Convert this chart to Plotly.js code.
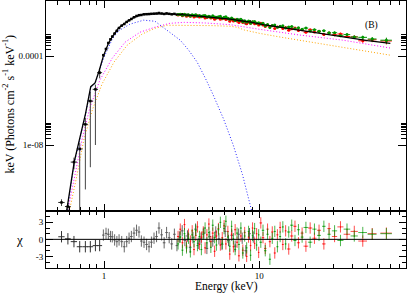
<!DOCTYPE html>
<html>
<head>
<meta charset="utf-8">
<script src="https://cdn.plot.ly/plotly-3.0.1.min.js"></script>
<style>html,body{margin:0;padding:0;background:#fff}#chart{width:409px;height:293px}</style>
</head>
<body>
<div id="chart"></div>
<script>
// ---------- model components (keV, keV Photons cm^-2 s^-1 keV^-1) ----------
const totE = [0.50,0.55,0.58,0.643,0.693,0.76,0.821,0.875,0.93,0.99,1.066,1.13,1.236,1.40,1.55,1.71,1.785,2.0,2.4,2.79,3.5,4.16,5.0,6.5,7.6,8.8,10.6,13,18.4,25,34.8,50,70];
const totF = [1e-13,2e-12,1.7e-11,1.8e-9,1.66e-8,2.6e-7,4.2e-6,6.2e-6,2.2e-5,1.0e-4,3.7e-4,7.4e-4,1.8e-3,3.5e-3,5.4e-3,7.0e-3,7.7e-3,8.1e-3,8.1e-3,7.7e-3,7.0e-3,6.3e-3,5.6e-3,4.6e-3,3.9e-3,3.4e-3,2.6e-3,2.1e-3,1.55e-3,1.08e-3,7.4e-4,5.0e-4,3.7e-4];

const bbE = [0.55,0.58,0.643,0.693,0.76,0.821,0.875,0.93,1.0,1.13,1.23,1.47,1.8,2.13,2.4,2.75,3.1,3.5,3.98,4.5,5.05,5.9,6.8,7.8,9.0,10];
const bbF = [1e-12,1.2e-11,1.5e-9,1.4e-8,2.3e-7,3.8e-6,5.8e-6,2.0e-5,9e-5,5.8e-4,1.33e-3,2.75e-3,4.15e-3,3.7e-3,2.0e-3,1.0e-3,5.2e-4,1.9e-4,5.4e-5,1.0e-5,1.8e-6,1.45e-7,1.0e-8,4.7e-10,1.2e-11,5e-13];

const compE = [0.55,0.585,0.65,0.72,0.81,0.94,1.13,1.37,1.71,2.13,2.66,3.3,4.5,6.5,10.1,18.4,34.8,70];
const compF = [1e-12,1.2e-11,4.5e-10,1.66e-8,4.6e-7,8.3e-6,8.1e-5,4.3e-4,1.2e-3,2.0e-3,3.0e-3,3.3e-3,3.1e-3,2.6e-3,1.6e-3,8.8e-4,5.2e-4,2.3e-4];

const reflE = [0.55,0.60,0.67,0.74,0.84,0.97,1.16,1.41,1.76,2.13,2.55,3.59,5.0,6.5,7.2,8.0,10.1,14,21.3,34.8,70];
const reflF = [1e-12,1.2e-11,4.5e-10,1.66e-8,3.7e-7,5.5e-6,5.4e-5,3.1e-4,9.8e-4,1.8e-3,2.45e-3,2.45e-3,2.35e-3,2.2e-3,2.0e-3,1.5e-3,1.05e-3,7.0e-4,4.3e-4,2.5e-4,1.1e-4];

// ---------- black data, low energies ----------
const bLoE = [0.532,0.585,0.640,0.697,0.758,0.816,0.880,0.937];
const bLoF = [2.6e-11,1.7e-11,1.7e-9,6.6e-9,8.5e-8,9.5e-7,3.2e-6,1.8e-5];
const bLoUp = [1.0e-11,0.7e-11,1.0e-9,6e-9,8e-8,1.5e-6,2.0e-6,1.0e-5];
const bLoDn = [0.8e-11,0.6e-11,0.9e-9,6.59e-9,8.49e-8,9.49e-7,3.19e-6,8e-6];
const bLoXErr = [0.025,0.025,0.03,0.03,0.03,0.035,0.035,0.035];
const bLoChi = [0.46,0.1,-0.4,-1.3,-1.3,-1.3,-1.1,-1.1];

// ---------- black data 1-9 keV ----------
const bE = [0.99,1.03,1.066,1.10,1.13,1.17,1.21,1.25,1.30,1.35,1.40,1.45,1.50,1.56,1.62,1.68,1.74,1.81,1.88,1.95,2.02,2.10,2.18,2.26,2.35,2.44,2.53,2.63,2.73,2.84,2.95,3.07,3.19,3.32,3.45,3.59,3.74,3.89,4.05,4.22,4.40,4.60,4.80,5.02,5.25,5.50,5.76,6.04,6.34,6.66,7.00,7.37,7.77,8.20,8.66,9.16];
const bF = [1.1e-4,2.1e-4,3.9e-4,5.7e-4,7.6e-4,1.04e-3,1.37e-3,1.84e-3,2.36e-3,2.78e-3,3.45e-3,4.05e-3,4.7e-3,5.6e-3,6.4e-3,6.95e-3,7.1e-3,7.55e-3,7.7e-3,7.8e-3,8.0e-3,8.15e-3,8.3e-3,8.7e-3,8.3e-3,7.9e-3,8.4e-3,8.0e-3,7.6e-3,7.95e-3,7.3e-3,7.5e-3,7.6e-3,7.1e-3,7.2e-3,6.6e-3,6.8e-3,7.0e-3,6.3e-3,6.3e-3,6.35e-3,5.6e-3,5.85e-3,5.55e-3,5.65e-3,5.27e-3,4.95e-3,5.2e-3,4.7e-3,4.65e-3,4.1e-3,4.3e-3,3.95e-3,3.0e-3,3.7e-3,3.4e-3];
const bChi = [0.75,1.05,0.9,0.5,0.45,-0.1,-0.4,-0.1,-0.4,-1.3,-0.4,0.2,0.5,1.1,1.6,1.3,-0.3,-0.5,-0.9,-1.3,-0.5,0.2,0.5,2.0,0.8,-0.6,1.2,0.3,-0.8,0.9,-1.1,0.4,1.5,-0.2,0.6,-1.4,0.3,1.8,-0.7,0.2,1.1,-1.6,0.5,-0.3,1.3,0.1,-0.9,1.4,-0.2,0.7,-1.2,0.9,0.2,-2.0,1.0,0.4];

// ---------- red / green data 3-70 keV ----------
const nuE = [3.0,3.1,3.2,3.3,3.4,3.5,3.6,3.7,3.8,3.9,4.0,4.12,4.24,4.36,4.48,4.6,4.74,4.88,5.02,5.16,5.3,5.46,5.62,5.78,5.94,6.1,6.28,6.46,6.64,6.82,7.0,7.2,7.4,7.62,7.84,8.06,8.3,8.54,8.8,9.06,9.34,9.62,9.92,10.24,10.58,10.94,11.32,11.72,12.14,12.6,13.1,13.64,14.2,14.8,15.5,16.2,17.0,17.9,18.9,20.0,21.3,22.7,24.3,26.1,28.2,30.6,33.4,36.8,41.0,46.5,53.5,66.0];
const nuRedF = [7.1e-3,7.4e-3,6.6e-3,7.4e-3,6.3e-3,6.7e-3,6.3e-3,6.65e-3,5.75e-3,6.25e-3,6.5e-3,5.7e-3,5.9e-3,6.0e-3,5.25e-3,5.65e-3,5.95e-3,5.2e-3,5.5e-3,4.6e-3,5.2e-3,5.4e-3,4.6e-3,4.8e-3,5.2e-3,4.4e-3,4.8e-3,3.75e-3,4.4e-3,3.8e-3,4.35e-3,3.8e-3,3.25e-3,3.8e-3,3.25e-3,3.65e-3,2.85e-3,3.3e-3,3.0e-3,3.4e-3,2.85e-3,3.0e-3,2.5e-3,3.05e-3,2.5e-3,2.15e-3,2.5e-3,2.15e-3,2.3e-3,1.77e-3,2.05e-3,2.15e-3,1.73e-3,1.93e-3,1.46e-3,1.7e-3,1.85e-3,1.42e-3,1.55e-3,1.2e-3,1.53e-3,1.21e-3,1.3e-3,9.5e-4,1.1e-3,9.1e-4,9.9e-4,7.6e-4,7.3e-4,4.9e-4,5.45e-4,4.8e-4];
const nuGrnF = [7.5e-3,7.75e-3,6.95e-3,7.7e-3,6.9e-3,7.25e-3,6.45e-3,7.2e-3,6.75e-3,7.2e-3,6.35e-3,6.65e-3,6.0e-3,6.55e-3,6.7e-3,5.95e-3,6.25e-3,5.55e-3,6.5e-3,5.75e-3,5.3e-3,5.9e-3,6.15e-3,5.05e-3,5.65e-3,5.85e-3,5.05e-3,4.5e-3,5.2e-3,4.55e-3,4.05e-3,4.55e-3,4.05e-3,4.5e-3,3.5e-3,3.9e-3,3.45e-3,3.85e-3,3.0e-3,3.5e-3,3.6e-3,3.05e-3,3.2e-3,2.8e-3,3.0e-3,2.3e-3,2.65e-3,1.95e-3,2.4e-3,2.5e-3,2.0e-3,2.2e-3,2.3e-3,1.86e-3,2.05e-3,2.15e-3,1.7e-3,1.87e-3,1.63e-3,1.82e-3,1.34e-3,1.55e-3,1.32e-3,1.4e-3,1.12e-3,1.13e-3,8.3e-4,9.3e-4,7.3e-4,7.0e-4,5.9e-4,5.2e-4];
const nuRedChi = [0.5,1.8,-0.6,2.6,-1.2,0.9,-0.3,1.5,-1.8,0.7,2.2,-0.9,0.4,1.3,-1.5,0.8,2.7,-0.4,1.1,-2.1,0.6,1.9,-1.0,0.3,2.4,-0.8,1.4,-2.6,0.9,-1.3,1.7,-0.5,-2.9,0.6,-1.9,1.2,-3.0,0.4,-1.1,2.0,-0.7,1.0,-2.3,2.9,0.3,-1.6,1.8,-0.4,1.3,-2.4,0.8,2.1,-0.9,1.5,-1.7,0.6,2.3,-0.6,1.1,-1.2,2.0,0.2,1.6,-0.8,1.9,0.5,2.2,0.9,1.4,-0.3,1.0,1.1];
const nuGrnChi = [-0.8,0.4,-1.9,1.0,-1.5,0.2,-2.2,0.8,-0.4,1.6,-1.1,0.5,-1.8,0.9,2.0,-0.6,1.2,-1.4,2.5,0.3,-1.0,1.7,3.0,-0.7,1.9,3.2,0.4,-1.2,2.3,0.1,-1.8,1.1,-0.9,2.0,-2.4,0.6,-1.5,1.4,-2.8,0.7,1.9,-1.0,0.8,-0.5,1.6,-2.0,0.9,-3.5,0.2,1.4,-1.3,0.5,2.2,-0.8,1.3,2.5,-0.2,1.7,0.4,2.1,-0.5,1.8,0.7,2.3,0.9,1.5,-0.2,1.8,0.6,1.2,0.9,1.0];
const nuRelErr = [0.04,0.04,0.04,0.04,0.04,0.04,0.04,0.04,0.04,0.04,0.04,0.04,0.04,0.04,0.04,0.04,0.04,0.04,
  0.05,0.05,0.05,0.05,0.05,0.05,0.05,0.05,0.05,0.05,0.05,0.05,0.05,0.05,0.05,0.05,0.05,0.05,0.05,0.05,0.05,0.05,0.05,0.05,0.05,
  0.06,0.06,0.06,0.06,0.06,0.06,0.06,0.06,0.06,0.06,0.06,
  0.08,0.08,0.08,0.08,0.08,
  0.10,0.10,0.10,0.10,0.10,0.10,
  0.13,0.13,0.13,0.15,0.18,0.22,0.30];
const nuXErr = [0.05,0.05,0.05,0.05,0.05,0.05,0.05,0.05,0.05,0.05,
  0.06,0.06,0.06,0.06,0.06,0.06,0.06,0.06,
  0.08,0.08,0.08,0.08,0.08,0.08,0.08,0.08,0.08,0.08,0.08,0.08,
  0.11,0.11,0.11,0.11,0.11,0.11,0.11,0.11,0.11,0.11,0.11,0.11,0.11,
  0.2,0.2,0.2,0.2,0.2,0.2,0.2,0.2,0.2,0.2,0.2,
  0.4,0.4,0.4,0.4,0.4,
  0.7,0.7,0.7,0.7,0.7,0.7,
  1.2,1.5,1.8,2.2,3.0,3.5,5.6];

// ---------- axis ticks ----------
const xMajor = [1,10];
const xMajorText = ['1','10'];
const xMinor = [0.5,0.6,0.7,0.8,0.9,2,3,4,5,6,7,8,9,20,30,40,50,60,70,80];
const yMajor = [1e-4,1e-8];
const yMajorText = ['0.0001','1e-08'];
const yMinor = [2e-4,3e-4,4e-4,5e-4,6e-4,7e-4,8e-4,9e-4,2e-8,3e-8,4e-8,5e-8,6e-8,7e-8,8e-8,9e-8];
const chiMajor = [-3,0,3];
const chiMajorText = ['-3','0','3'];

const RED = 'rgb(255,0,0)', GRN = 'rgb(0,150,0)';
const serif = "'Liberation Serif', 'Times New Roman', Times, serif";

const nuRedErr = nuRedF.map((f,i)=>f*nuRelErr[i]);
const nuGrnErr = nuGrnF.map((f,i)=>f*nuRelErr[i]);

const eb = (c)=>({color:c, thickness:1, width:0});
const dotted = (c)=>({color:c, width:1, dash:'1px,2px'});

const data = [
  // model components
  {x:compE, y:compF, xaxis:'x', yaxis:'y', mode:'lines', line:dotted('rgb(255,0,255)'), hoverinfo:'skip'},
  {x:reflE, y:reflF, xaxis:'x', yaxis:'y', mode:'lines', line:dotted('rgb(255,165,0)'), hoverinfo:'skip'},
  {x:bbE, y:bbF, xaxis:'x', yaxis:'y', mode:'lines', line:dotted('rgb(40,40,255)'), hoverinfo:'skip'},
  // black data
  {x:bLoE, y:bLoF, xaxis:'x', yaxis:'y', mode:'markers', marker:{color:'black', size:2.5, symbol:'square'},
   error_y:Object.assign({type:'data', symmetric:false, array:bLoUp, arrayminus:bLoDn}, eb('#444')),
   error_x:Object.assign({type:'data', array:bLoXErr}, eb('#222'))},
  {x:bE, y:bF, xaxis:'x', yaxis:'y', mode:'markers', marker:{color:'black', size:2.5, symbol:'square'},
   error_y:Object.assign({type:'percent', value:4}, eb('#333')),
   error_x:Object.assign({type:'percent', value:2}, eb('#333'))},
  // red / green data
  {x:nuE, y:nuRedF, xaxis:'x', yaxis:'y', mode:'markers', marker:{color:RED, size:3},
   error_y:Object.assign({type:'data', array:nuRedErr}, eb(RED)),
   error_x:Object.assign({type:'data', array:nuXErr}, eb(RED))},
  {x:nuE, y:nuGrnF, xaxis:'x', yaxis:'y', mode:'markers', marker:{color:GRN, size:3},
   error_y:Object.assign({type:'data', array:nuGrnErr}, eb(GRN)),
   error_x:Object.assign({type:'data', array:nuXErr}, eb(GRN))},
  // total model
  {x:totE, y:totF, xaxis:'x', yaxis:'y', mode:'lines', line:{color:'black', width:1.3}, hoverinfo:'skip'},
  // residuals
  {x:bLoE, y:bLoChi, xaxis:'x2', yaxis:'y2', mode:'markers', marker:{color:'#333', size:1},
   error_y:Object.assign({type:'constant', value:1}, eb('#333')),
   error_x:Object.assign({type:'data', array:bLoXErr}, eb('#333'))},
  {x:bE, y:bChi, xaxis:'x2', yaxis:'y2', mode:'markers', marker:{color:'#555', size:1},
   error_y:Object.assign({type:'constant', value:1}, eb('#666')),
   error_x:Object.assign({type:'percent', value:2}, eb('#666'))},
  {x:nuE, y:nuRedChi, xaxis:'x2', yaxis:'y2', mode:'markers', marker:{color:RED, size:1},
   error_y:Object.assign({type:'constant', value:1}, eb('rgba(255,0,0,0.7)')),
   error_x:Object.assign({type:'data', array:nuXErr}, eb('rgba(255,0,0,0.7)'))},
  {x:nuE, y:nuGrnChi, xaxis:'x2', yaxis:'y2', mode:'markers', marker:{color:GRN, size:1},
   error_y:Object.assign({type:'constant', value:1}, eb('rgba(0,150,0,0.7)')),
   error_x:Object.assign({type:'data', array:nuXErr}, eb('rgba(0,150,0,0.7)'))}
];

const xCommon = {type:'log', range:[-0.374,1.946], showline:true, linecolor:'black', linewidth:1, mirror:'ticks',
  ticks:'inside', ticklen:7, tickwidth:1, tickcolor:'black', tickmode:'array', tickvals:xMajor, ticktext:xMajorText,
  showgrid:false, zeroline:false,
  minor:{ticks:'inside', ticklen:4, tickwidth:1, tickcolor:'black', tickmode:'array', tickvals:xMinor, showgrid:false}};

const layout = {
  width:409, height:293,
  margin:{l:46, r:3, t:1, b:25, pad:0},
  paper_bgcolor:'white', plot_bgcolor:'white',
  showlegend:false,
  font:{family:serif, size:9, color:'black'},
  xaxis:Object.assign({}, xCommon, {domain:[0,1], anchor:'y', showticklabels:false}),
  xaxis2:Object.assign({}, xCommon, {domain:[0,1], anchor:'y2', showticklabels:true, ticklabelstandoff:-1, tickfont:{family:serif, size:9, color:'black'}}),
  yaxis:{type:'log', range:[-10.97,-1.52], domain:[0.2135,1], anchor:'x', showline:true, linecolor:'black', linewidth:1,
    mirror:'ticks', ticks:'inside', ticklen:8, tickwidth:1, tickcolor:'black', tickmode:'array', tickvals:yMajor, ticktext:yMajorText,
    tickfont:{family:serif, size:9, color:'black'}, showgrid:false, zeroline:false,
    minor:{ticks:'inside', ticklen:5, tickwidth:1, tickcolor:'black', tickmode:'array', tickvals:yMinor, showgrid:false}},
  yaxis2:{range:[-5.05,5.0], domain:[0,0.2135], anchor:'x2', showline:true, linecolor:'black', linewidth:1,
    mirror:'ticks', ticks:'inside', ticklen:7, tickwidth:1, tickcolor:'black', tickmode:'array', tickvals:chiMajor, ticktext:chiMajorText,
    tickfont:{family:serif, size:9, color:'black'}, showgrid:false, zeroline:false,
    minor:{ticks:'inside', ticklen:4, tickwidth:1, tickcolor:'black', dtick:1, tick0:0, showgrid:false}},
  shapes:[{type:'line', xref:'x2 domain', x0:0, x1:1, yref:'y2', y0:0, y1:0, line:{color:'black', width:1}, layer:'above'}],
  annotations:[
    {text:'keV (Photons cm<sup>-2</sup> s<sup>-1</sup> keV<sup>-1</sup>)', xref:'paper', yref:'paper', x:-0.104, y:0.614,
     xanchor:'center', yanchor:'middle', textangle:-90, showarrow:false, font:{family:serif, size:12, color:'black'}},
    {text:'χ', xref:'paper', yref:'paper', x:-0.0723, y:0.105, xanchor:'center', yanchor:'middle', showarrow:false, font:{family:serif, size:13, color:'black'}},
    {text:'Energy (keV)', xref:'paper', yref:'paper', x:0.5, y:-0.0695, xanchor:'center', yanchor:'middle', showarrow:false, font:{family:serif, size:11.5, color:'black'}},
    {text:'(B)', xref:'paper', yref:'paper', x:0.9035, y:0.91, xanchor:'center', yanchor:'middle', showarrow:false, font:{family:serif, size:9.5, color:'black'}}
  ]
};

Plotly.newPlot('chart', data, layout, {staticPlot:true, displayModeBar:false});
</script>
</body>
</html>
